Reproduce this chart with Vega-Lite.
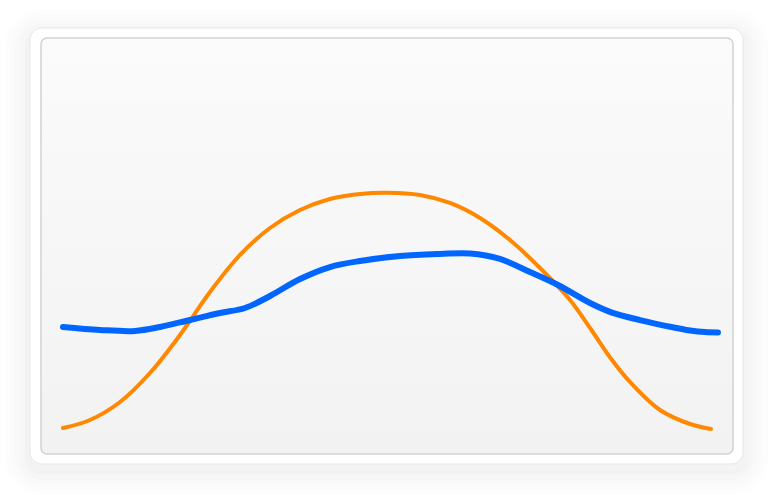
{
  "$schema": "https://vega.github.io/schema/vega-lite/v6.json",
  "width": 692,
  "height": 416,
  "autosize": "none",
  "padding": {"left": 41, "top": 38, "right": 41, "bottom": 46},
  "background": "#ffffff",
  "config": {"view": {"stroke": null, "fill": null}},
  "datasets": {
    "one": [{}],
    "series": [
      {"s": "orange", "x": 3.18, "y": 6.25},
      {"s": "orange", "x": 7.08, "y": 8.17},
      {"s": "orange", "x": 11.42, "y": 12.5},
      {"s": "orange", "x": 15.75, "y": 19.47},
      {"s": "orange", "x": 20.09, "y": 28.61},
      {"s": "orange", "x": 24.42, "y": 38.94},
      {"s": "orange", "x": 28.76, "y": 47.84},
      {"s": "orange", "x": 33.09, "y": 54.33},
      {"s": "orange", "x": 37.43, "y": 58.65},
      {"s": "orange", "x": 41.76, "y": 61.3},
      {"s": "orange", "x": 46.1, "y": 62.5},
      {"s": "orange", "x": 50.14, "y": 62.8},
      {"s": "orange", "x": 54.77, "y": 62.26},
      {"s": "orange", "x": 59.1, "y": 60.34},
      {"s": "orange", "x": 63.44, "y": 56.73},
      {"s": "orange", "x": 67.77, "y": 51.44},
      {"s": "orange", "x": 72.11, "y": 44.71},
      {"s": "orange", "x": 76.45, "y": 37.02},
      {"s": "orange", "x": 79.34, "y": 30.29},
      {"s": "orange", "x": 82.51, "y": 22.6},
      {"s": "orange", "x": 85.12, "y": 17.31},
      {"s": "orange", "x": 89.45, "y": 10.58},
      {"s": "orange", "x": 93.79, "y": 7.21},
      {"s": "orange", "x": 96.82, "y": 6.01},
      {"s": "blue", "x": 3.18, "y": 30.53},
      {"s": "blue", "x": 8.53, "y": 29.81},
      {"s": "blue", "x": 13.58, "y": 29.57},
      {"s": "blue", "x": 17.2, "y": 30.53},
      {"s": "blue", "x": 21.53, "y": 32.21},
      {"s": "blue", "x": 25.87, "y": 33.89},
      {"s": "blue", "x": 29.48, "y": 35.1},
      {"s": "blue", "x": 33.09, "y": 37.98},
      {"s": "blue", "x": 37.43, "y": 42.07},
      {"s": "blue", "x": 41.76, "y": 44.95},
      {"s": "blue", "x": 46.1, "y": 46.39},
      {"s": "blue", "x": 51.88, "y": 47.6},
      {"s": "blue", "x": 57.66, "y": 48.08},
      {"s": "blue", "x": 61.99, "y": 48.2},
      {"s": "blue", "x": 66.33, "y": 46.88},
      {"s": "blue", "x": 70.66, "y": 43.75},
      {"s": "blue", "x": 74.71, "y": 40.63},
      {"s": "blue", "x": 79.34, "y": 36.3},
      {"s": "blue", "x": 82.51, "y": 34.0},
      {"s": "blue", "x": 86.56, "y": 32.2},
      {"s": "blue", "x": 90.9, "y": 30.6},
      {"s": "blue", "x": 93.79, "y": 29.7},
      {"s": "blue", "x": 95.95, "y": 29.3},
      {"s": "blue", "x": 97.83, "y": 29.21}
    ]
  },
  "encoding": {
    "x": {"type": "quantitative", "scale": {"domain": [0, 100], "nice": false, "zero": false}, "axis": null},
    "y": {"type": "quantitative", "scale": {"domain": [0, 100], "nice": false, "zero": false}, "axis": null}
  },
  "layer": [
    {
      "data": {"name": "one"},
      "mark": {"type": "rect", "color": "#000000", "opacity": 0.006, "cornerRadius": 37},
      "encoding": {"x": {"datum": -5.2, "type": "quantitative"}, "x2": {"datum": 105.06}, "y": {"datum": 106.97, "type": "quantitative"}, "y2": {"datum": -9.86}}
    },
    {
      "data": {"name": "one"},
      "mark": {"type": "rect", "color": "#000000", "opacity": 0.007, "cornerRadius": 32},
      "encoding": {"x": {"datum": -4.48, "type": "quantitative"}, "x2": {"datum": 104.34}, "y": {"datum": 105.77, "type": "quantitative"}, "y2": {"datum": -8.65}}
    },
    {
      "data": {"name": "one"},
      "mark": {"type": "rect", "color": "#000000", "opacity": 0.008, "cornerRadius": 27},
      "encoding": {"x": {"datum": -3.76, "type": "quantitative"}, "x2": {"datum": 103.61}, "y": {"datum": 104.57, "type": "quantitative"}, "y2": {"datum": -7.45}}
    },
    {
      "data": {"name": "one"},
      "mark": {"type": "rect", "color": "#000000", "opacity": 0.01, "cornerRadius": 22},
      "encoding": {"x": {"datum": -3.03, "type": "quantitative"}, "x2": {"datum": 102.89}, "y": {"datum": 103.37, "type": "quantitative"}, "y2": {"datum": -6.25}}
    },
    {
      "data": {"name": "one"},
      "mark": {"type": "rect", "color": "#000000", "opacity": 0.012, "cornerRadius": 17},
      "encoding": {"x": {"datum": -2.31, "type": "quantitative"}, "x2": {"datum": 102.17}, "y": {"datum": 102.16, "type": "quantitative"}, "y2": {"datum": -5.05}}
    },
    {
      "data": {"name": "one"},
      "mark": {"type": "rect", "fill": "#ffffff", "stroke": "#e8e8e8", "strokeWidth": 1, "cornerRadius": 12},
      "encoding": {"x": {"datum": -1.59, "type": "quantitative"}, "x2": {"datum": 101.45}, "y": {"datum": 102.4, "type": "quantitative"}, "y2": {"datum": -2.4}}
    },
    {
      "data": {"name": "one"},
      "mark": {"type": "rect", "stroke": "#d2d2d2", "strokeWidth": 1.5, "cornerRadius": 6,
        "fill": {"gradient": "linear", "x1": 0, "y1": 0, "x2": 0, "y2": 1, "stops": [{"offset": 0, "color": "#fbfbfb"}, {"offset": 1, "color": "#f2f2f2"}]}},
      "encoding": {"x": {"datum": 0, "type": "quantitative"}, "x2": {"datum": 100}, "y": {"datum": 100, "type": "quantitative"}, "y2": {"datum": 0}}
    },
    {
      "data": {"name": "series"},
      "transform": [{"filter": "datum.s === 'orange'"}],
      "mark": {"type": "line", "interpolate": "catmull-rom", "strokeWidth": 4, "strokeCap": "round", "strokeJoin": "round", "color": "#ff8800"},
      "encoding": {"x": {"field": "x", "type": "quantitative"}, "y": {"field": "y", "type": "quantitative"}}
    },
    {
      "data": {"name": "series"},
      "transform": [{"filter": "datum.s === 'blue'"}],
      "mark": {"type": "line", "interpolate": "catmull-rom", "strokeWidth": 6, "strokeCap": "round", "strokeJoin": "round", "color": "#0066ff"},
      "encoding": {"x": {"field": "x", "type": "quantitative"}, "y": {"field": "y", "type": "quantitative"}}
    }
  ]
}
